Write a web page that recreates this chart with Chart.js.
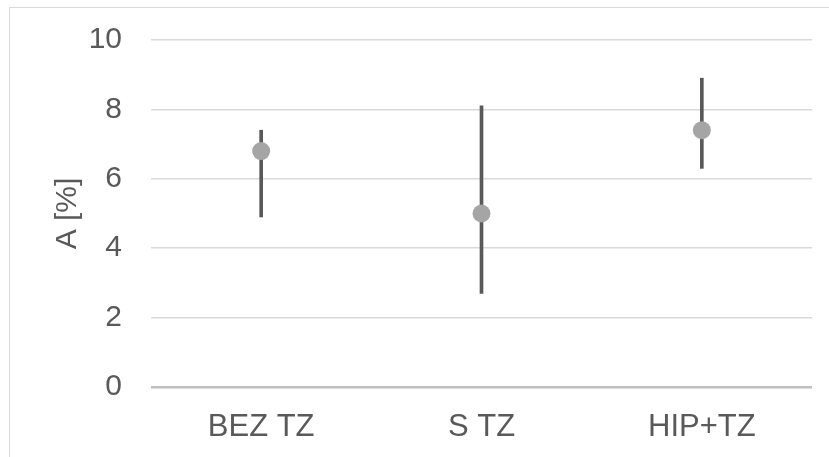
<!DOCTYPE html>
<html>
<head>
<meta charset="utf-8">
<script src="https://cdn.jsdelivr.net/npm/chart.js@4/dist/chart.umd.min.js"></script>
<style>
    html, body { margin: 0; padding: 0; background: #fff; overflow: hidden; }
    #wrap { position: relative; width: 829px; height: 457px; overflow: hidden; }
    #frame { position: absolute; left: 9px; top: 7px; width: 900px; height: 500px; border: 1px solid #d9d9d9; }
    #chart { position: absolute; left: 0; top: -7px; }
</style>
</head>
<body>
<div id="wrap">
    <div id="frame"></div>
    <canvas id="chart" width="829" height="464"></canvas>
</div>
<script>
// mean A [%] per group with the low/high ends of its error bar
const groups = ['BEZ TZ', 'S TZ', 'HIP+TZ'];
const means = [6.8, 5.0, 7.4];
const errLow = [4.9, 2.7, 6.3];
const errHigh = [7.4, 8.1, 8.9];
const yTicks = [0, 2, 4, 6, 8, 10];

const textColor = '#595959';
const fontFamily = "'Liberation Sans', Arial, sans-serif";

new Chart(document.getElementById('chart'), {
    type: 'bar',
    data: {
        labels: groups,
        datasets: [
            {
                type: 'line',
                label: 'A',
                data: means,
                showLine: false,
                pointRadius: 9,
                pointHoverRadius: 9,
                pointBackgroundColor: '#a5a5a5',
                pointBorderWidth: 0,
                order: 0,
            },
            {
                label: 'range',
                data: groups.map((g, i) => [errLow[i], errHigh[i]]),
                backgroundColor: textColor,
                barThickness: 3,
                borderWidth: 0,
                order: 1,
            },
        ],
    },
    options: {
        responsive: false,
        animation: false,
        layout: { padding: { top: 32, right: 17, bottom: 0, left: 0 } },
        plugins: { legend: { display: false }, tooltip: { enabled: false } },
        scales: {
            x: {
                grid: { display: false, drawTicks: false },
                border: { display: false },
                ticks: { color: textColor, font: { family: fontFamily, size: 31 }, padding: 22 },
                afterFit: s => { s.height = 70; },
            },
            y: {
                min: 0, max: 10,
                afterBuildTicks: s => { s.ticks = yTicks.map(v => ({ value: v })); },
                grid: {
                    drawTicks: false,
                    color: c => (c.tick.value === 0 ? '#bfbfbf' : '#d9d9d9'),
                    lineWidth: c => (c.tick.value === 0 ? 2.5 : 1.5),
                },
                border: { display: false },
                ticks: { color: textColor, font: { family: fontFamily, size: 30 }, padding: 29 },
                title: {
                    display: true, text: 'A [%]', color: textColor,
                    font: { family: fontFamily, size: 30 },
                    padding: { top: 50, bottom: 0 },
                },
                afterFit: s => { s.width = 151; },
            },
        },
    },
});
</script>
</body>
</html>
